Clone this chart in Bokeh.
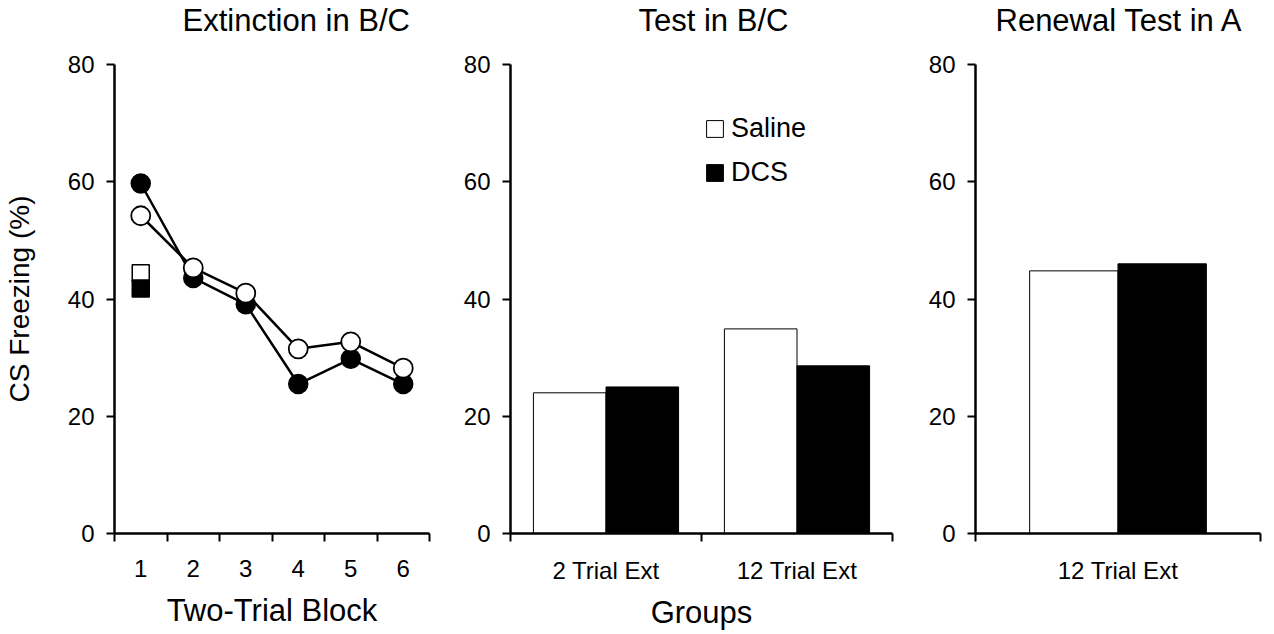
from bokeh.plotting import figure
from bokeh.layouts import row
from bokeh.models import FixedTicker, Range1d, ColumnDataSource, CustomJSTickFormatter, Title
from bokeh.transform import dodge
from bokeh.embed import file_html
from bokeh.resources import INLINE

# ---------------- data ----------------
blocks = [1, 2, 3, 4, 5, 6]
ext_saline = [54.2, 45.3, 41.0, 31.5, 32.7, 28.2]
ext_dcs = [59.7, 43.6, 39.1, 25.5, 29.8, 25.5]
pre_block = [1]
pre_saline = [44.4]
pre_dcs = [41.8]

test_groups = ["2 Trial Ext", "12 Trial Ext"]
test_saline = [24.0, 34.9]
test_dcs = [25.0, 28.6]

renewal_groups = ["12 Trial Ext"]
renewal_saline = [44.8]
renewal_dcs = [46.0]

y_ticks = [0, 20, 40, 60, 80]
series_names = ["Saline", "DCS"]
titles = ["Extinction in B/C", "Test in B/C", "Renewal Test in A"]

FONT = "Liberation Sans"
TICK_FS = "24px"
LABEL_FS = "31px"
YLABEL_FS = "28px"


def style(p, tick_standoff, label_standoff):
    p.outline_line_color = None
    p.xgrid.visible = False
    p.ygrid.visible = False
    p.background_fill_color = "white"
    p.border_fill_color = "white"
    for ax in (p.xaxis[0], p.yaxis[0]):
        ax.axis_line_width = 2.5
        ax.axis_line_color = "black"
        ax.major_tick_line_width = 2
        ax.minor_tick_line_width = 2
        ax.major_tick_line_color = "black"
        ax.minor_tick_line_color = "black"
        ax.major_label_text_font = FONT
        ax.major_label_text_font_size = TICK_FS
        ax.major_label_text_color = "black"
        ax.axis_label_text_font = FONT
        ax.axis_label_text_font_size = LABEL_FS
        ax.axis_label_text_font_style = "normal"
        ax.axis_label_text_color = "black"
    y = p.yaxis[0]
    y.ticker = FixedTicker(ticks=y_ticks, minor_ticks=[])
    y.major_tick_out = 8
    y.major_tick_in = 0
    y.minor_tick_out = 0
    y.minor_tick_in = 0
    y.major_label_standoff = 12
    y.axis_label_standoff = 30
    y.axis_label_text_font_size = YLABEL_FS
    x = p.xaxis[0]
    x.major_tick_out = 0
    x.major_tick_in = 0
    x.minor_tick_out = 8
    x.minor_tick_in = 0
    x.major_label_standoff = tick_standoff
    x.axis_label_standoff = label_standoff


def add_title(p, text, offset):
    # spacer between frame and title (added first = closest to the frame)
    p.add_layout(Title(text=" ", text_font_size="10px", standoff=14,
                       text_font=FONT), "above")
    p.add_layout(Title(text=text, align="left", offset=offset, standoff=0,
                       vertical_align="bottom", text_font=FONT,
                       text_font_size=LABEL_FS, text_font_style="normal",
                       text_color="black"), "above")


common = dict(output_backend="svg", toolbar_location=None, frame_height=469,
              min_border_top=64, min_border_bottom=98)

# ---------------- panel 1 ----------------
p1 = figure(frame_width=315, min_border_left=114, min_border_right=11,
            x_range=Range1d(blocks[0] - 0.5, blocks[-1] + 0.5), y_range=Range1d(0, 80),
            x_axis_label="Two-Trial Block", y_axis_label="CS Freezing (%)", **common)
style(p1, 18, 13)
add_title(p1, titles[0], 68)
p1.xaxis[0].ticker = FixedTicker(ticks=blocks,
                                 minor_ticks=[b - 0.5 for b in blocks] + [blocks[-1] + 0.5])
p1.line(blocks, ext_dcs, line_color="black", line_width=2.5)
p1.scatter(blocks, ext_dcs, marker="circle", size=19, fill_color="black",
           line_color="black", line_width=1.5)
p1.line(blocks, ext_saline, line_color="black", line_width=2.5)
p1.scatter(blocks, ext_saline, marker="circle", size=19, fill_color="white",
           line_color="black", line_width=1.8)
p1.scatter(pre_block, pre_saline, marker="square", size=17, fill_color="white",
           line_color="black", line_width=1.5)
p1.scatter(pre_block, pre_dcs, marker="square", size=17, fill_color="black",
           line_color="black", line_width=1.5)

# ---------------- panel 2 ----------------
test_x = [i + 0.5 for i in range(len(test_groups))]
p2 = figure(frame_width=382, min_border_left=70, min_border_right=13,
            x_range=Range1d(0, len(test_groups)), y_range=Range1d(0, 80),
            x_axis_label="Groups", **common)
style(p2, 15, 8)
add_title(p2, titles[1], 128)
p2.xaxis[0].ticker = FixedTicker(ticks=test_x, minor_ticks=list(range(len(test_groups) + 1)))
p2.xaxis[0].formatter = CustomJSTickFormatter(args=dict(labels=test_groups),
                                              code="return labels[Math.floor(tick)]")
src2 = ColumnDataSource(dict(x=test_x, saline=test_saline, dcs=test_dcs))
p2.vbar(x=dodge("x", -0.19), top="saline", width=0.38, source=src2,
        fill_color="white", line_color="black", line_width=1, legend_label=series_names[0])
p2.vbar(x=dodge("x", 0.19), top="dcs", width=0.38, source=src2,
        fill_color="black", line_color="black", line_width=1, legend_label=series_names[1])
lg = p2.legend[0]
lg.location = (194, 345)
lg.border_line_color = None
lg.background_fill_alpha = 0
lg.padding = 0
lg.margin = 0
lg.spacing = 13
lg.glyph_width = 21
lg.glyph_height = 21
lg.label_standoff = 6
lg.label_text_font = FONT
lg.label_text_font_size = "27px"
lg.label_text_color = "black"

# ---------------- panel 3 ----------------
ren_x = [i + 0.5 for i in range(len(renewal_groups))]
p3 = figure(frame_width=285, min_border_left=70, min_border_right=6,
            x_range=Range1d(0, len(renewal_groups)), y_range=Range1d(0, 80), **common)
style(p3, 15, 8)
add_title(p3, titles[2], 20)
p3.xaxis[0].ticker = FixedTicker(ticks=ren_x, minor_ticks=list(range(len(renewal_groups) + 1)))
p3.xaxis[0].formatter = CustomJSTickFormatter(args=dict(labels=renewal_groups),
                                              code="return labels[Math.floor(tick)]")
src3 = ColumnDataSource(dict(x=ren_x, saline=renewal_saline, dcs=renewal_dcs))
p3.vbar(x=dodge("x", -0.155), top="saline", width=0.31, source=src3,
        fill_color="white", line_color="black", line_width=1)
p3.vbar(x=dodge("x", 0.155), top="dcs", width=0.31, source=src3,
        fill_color="black", line_color="black", line_width=1)

layout = row(p1, p2, p3)
open("out.html", "w").write(file_html(layout, INLINE))
